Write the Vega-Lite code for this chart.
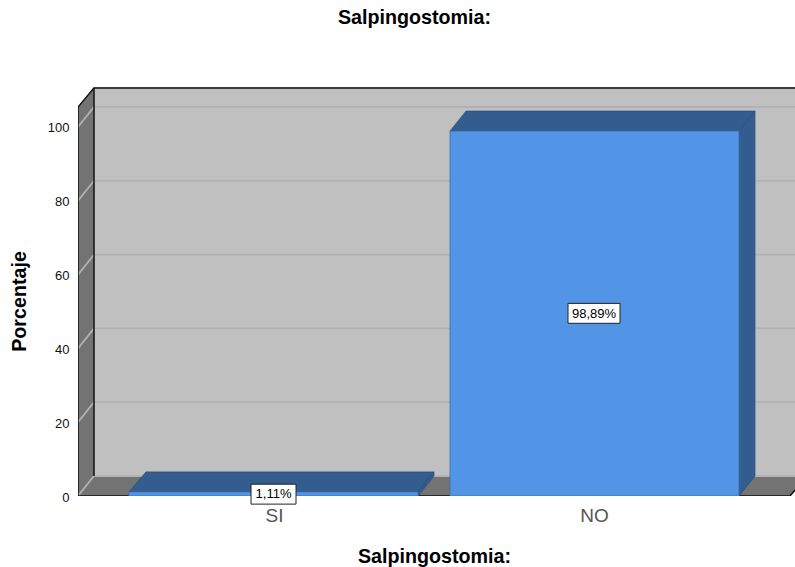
{
"$schema":"https://vega.github.io/schema/vega-lite/v6.json",
"width":717,"height":409,
"autosize":{"type":"none"},
"padding":{"left":78,"top":87,"right":0,"bottom":71},
"background":"white",
"view":{"stroke":null},
"title":{"text":"Salpingostomia:","font":"Liberation Sans","fontSize":19.7,"fontWeight":"bold","color":"#000000","anchor":"middle","dx":-22,"offset":59},
"layer":[
{"data":{"values":[{"x":94,"x2":795,"y":5.42,"y2":110.84}]},
 "mark":{"type":"rect","fill":"#c0c0c0","clip":true},
 "encoding":{
  "x":{"field":"x","type":"quantitative","scale":{"domain":[78,795],"nice":false,"zero":false},
   "axis":{"values":[274,594],"labelExpr":"datum.value<300?'SI':'NO'","title":"Salpingostomia:","titleFont":"Liberation Sans","titleFontSize":19.7,"titleFontWeight":"bold","titleColor":"#000000","titleX":356,"titleY":50,"labelFont":"Liberation Sans","labelFontSize":19,"labelColor":"#555555","labelPadding":10,"tickSize":0,"domain":false,"grid":false,"labelFlush":false}},
  "x2":{"field":"x2"},
  "y":{"field":"y","type":"quantitative","scale":{"domain":[0,110.84],"nice":false,"zero":false},
   "axis":{"values":[0,20,40,60,80,100],"title":"Porcentaje","titleFont":"Liberation Sans","titleFontSize":19.7,"titleFontWeight":"bold","titleColor":"#000000","titleX":-49,"titleY":214,"labelFont":"Liberation Sans","labelFontSize":13,"labelColor":"#111111","labelPadding":9,"labelOffset":1,"tickSize":0,"domain":false,"grid":false}},
  "y2":{"field":"y2"}}},
{"data":{"values":[{"s":"wall","x":78,"y":0,"y2":105.4},{"s":"wall","x":94,"y":5.42,"y2":110.84}]},
 "mark":{"type":"area","orient":"vertical","fill":"#737373","clip":true},
 "encoding":{"x":{"field":"x","type":"quantitative"},"y":{"field":"y","type":"quantitative"},"y2":{"field":"y2"}}},
{"data":{"values":[{"s":"floor","y":0,"x":78,"x2":790},{"s":"floor","y":5.42,"x":94,"x2":806}]},
 "mark":{"type":"area","orient":"horizontal","fill":"#737373","clip":true},
 "encoding":{"y":{"field":"y","type":"quantitative"},"x":{"field":"x","type":"quantitative"},"x2":{"field":"x2"}}},
{"data":{"values":[
 {"g":20,"o":1,"x":78,"y":20},{"g":20,"o":2,"x":94,"y":25.42},{"g":20,"o":3,"x":795,"y":25.42},
 {"g":40,"o":1,"x":78,"y":40},{"g":40,"o":2,"x":94,"y":45.42},{"g":40,"o":3,"x":795,"y":45.42},
 {"g":60,"o":1,"x":78,"y":60},{"g":60,"o":2,"x":94,"y":65.42},{"g":60,"o":3,"x":795,"y":65.42},
 {"g":80,"o":1,"x":78,"y":80},{"g":80,"o":2,"x":94,"y":85.42},{"g":80,"o":3,"x":795,"y":85.42},
 {"g":100,"o":1,"x":78,"y":100},{"g":100,"o":2,"x":94,"y":105.42},{"g":100,"o":3,"x":795,"y":105.42},
 {"g":0,"o":1,"x":78,"y":0},{"g":0,"o":2,"x":94,"y":5.42},{"g":0,"o":3,"x":795,"y":5.42}]},
 "mark":{"type":"line","stroke":"#b2b2b2","strokeWidth":1.8,"clip":true},
 "encoding":{"x":{"field":"x","type":"quantitative"},"y":{"field":"y","type":"quantitative"},"detail":{"field":"g"},"order":{"field":"o"}}},
{"data":{"values":[
 {"e":"a","o":1,"x":78,"y":0},{"e":"a","o":2,"x":78,"y":105.4},{"e":"a","o":3,"x":94,"y":110.6},{"e":"a","o":4,"x":795,"y":110.6},
 {"e":"b","o":1,"x":94,"y":5.42},{"e":"b","o":2,"x":94,"y":110.6},
 {"e":"c","o":1,"x":78,"y":0},{"e":"c","o":2,"x":790,"y":0},{"e":"c","o":3,"x":795,"y":1.6}]},
 "mark":{"type":"line","stroke":"#111111","strokeWidth":1.5,"clip":true},
 "encoding":{"x":{"field":"x","type":"quantitative"},"y":{"field":"y","type":"quantitative"},"detail":{"field":"e"},"order":{"field":"o"}}},
{"data":{"values":[
 {"s":"SI top","y":1.11,"x":129,"x2":418},{"s":"SI top","y":6.53,"x":146,"x2":434},
 {"s":"NO top","y":98.89,"x":450,"x2":739},{"s":"NO top","y":104.31,"x":466,"x2":755}]},
 "mark":{"type":"area","orient":"horizontal","fill":"#335c8f","stroke":"#2b4d78","strokeWidth":0.7,"clip":true},
 "encoding":{"y":{"field":"y","type":"quantitative"},"x":{"field":"x","type":"quantitative"},"x2":{"field":"x2"},"detail":{"field":"s"}}},
{"data":{"values":[
 {"s":"SI side","x":418,"y":0,"y2":1.11},{"s":"SI side","x":434,"y":5.42,"y2":6.53},
 {"s":"NO side","x":739,"y":0,"y2":98.89},{"s":"NO side","x":755,"y":5.42,"y2":104.31}]},
 "mark":{"type":"area","orient":"vertical","fill":"#335c8f","stroke":"#2b4d78","strokeWidth":0.7,"clip":true},
 "encoding":{"x":{"field":"x","type":"quantitative"},"y":{"field":"y","type":"quantitative"},"y2":{"field":"y2"},"detail":{"field":"s"}}},
{"data":{"values":[{"cat":"SI","x":129,"x2":418,"y":0,"y2":1.11},{"cat":"NO","x":450,"x2":739,"y":0,"y2":98.89}]},
 "mark":{"type":"rect","fill":"#5294e5","stroke":"#3d6ea8","strokeWidth":0.8,"clip":true},
 "encoding":{"x":{"field":"x","type":"quantitative"},"x2":{"field":"x2"},"y":{"field":"y","type":"quantitative"},"y2":{"field":"y2"}}},
{"data":{"name":"labels","values":[{"cat":"SI","x":251,"x2":296,"y":3.2,"y2":-2.2,"ty":0.55,"tx":273.5,"label":"1,11%"},{"cat":"NO","x":568,"x2":620,"y":52.2,"y2":46.8,"ty":49.45,"tx":594,"label":"98,89%"}]},
 "mark":{"type":"rect","fill":"#ffffff","stroke":"#222222","strokeWidth":1,"clip":false},
 "encoding":{"x":{"field":"x","type":"quantitative"},"x2":{"field":"x2"},"y":{"field":"y","type":"quantitative"},"y2":{"field":"y2"}}},
{"data":{"name":"labels"},
 "mark":{"type":"text","font":"Liberation Sans","fontSize":13,"color":"#000000","align":"center","baseline":"middle"},
 "encoding":{"x":{"field":"tx","type":"quantitative"},"y":{"field":"ty","type":"quantitative"},"text":{"field":"label"}}}
]
}
